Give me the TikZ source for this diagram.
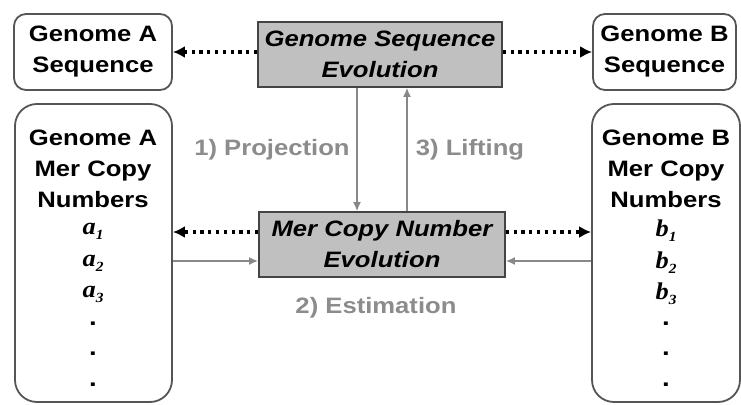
\documentclass[tikz,border=0pt]{standalone}
\usepackage{fontspec}
\setmainfont{Liberation Sans}[FakeStretch=1.15]
\newfontfamily\varfont{Liberation Serif}[FakeStretch=1.1]
\usetikzlibrary{arrows.meta}
\definecolor{boxline}{HTML}{555555}
\definecolor{procfill}{HTML}{C0C0C0}
\definecolor{procline}{HTML}{444444}
\definecolor{flowgray}{HTML}{888888}
\definecolor{labelgray}{HTML}{8C8C8C}
\newcommand{\mervar}[2]{{\varfont\bfseries\itshape\fontsize{24}{24}\selectfont #1\raisebox{-5pt}{\fontsize{14}{14}\selectfont #2}}}
\begin{document}
\begin{tikzpicture}[x=1pt,y=-1pt,
  txt/.style={font=\fontsize{22.3}{31}\selectfont\bfseries, align=center, inner sep=0pt},
  seqbox/.style={draw=boxline, line width=1.8pt, rounded corners=12pt, inner sep=0pt},
  merbox/.style={draw=boxline, line width=1.8pt, rounded corners=22pt, inner sep=0pt},
  procbox/.style={draw=procline, fill=procfill, line width=1.6pt, inner sep=0pt,
    font=\fontsize{22.3}{31}\selectfont\bfseries\itshape, align=center},
  steplabel/.style={font=\fontsize{22.3}{26}\selectfont\bfseries, text=labelgray, inner sep=0pt},
  dotarrow/.style={line width=3.4pt, dash pattern=on 3.2pt off 4.6pt,
    -{Latex[length=12pt,width=12pt]}},
  flowarrow/.style={draw=flowgray, line width=2.8pt, -{Latex[length=9pt,width=8pt]}},
  vardot/.style={font=\fontsize{24}{24}\selectfont\bfseries, inner sep=0pt}]
\useasboundingbox (0,0) rectangle (741,404);

% sequence boxes
\node[seqbox, minimum width=158pt, minimum height=76pt] (aseq) at (93,52) {};
\node[txt] (aseqtxt) at (aseq.center) {Genome A\\Sequence};
\node[seqbox, minimum width=143pt, minimum height=76pt] (bseq) at (664.5,52) {};
\node[txt] (bseqtxt) at (bseq.center) {Genome B\\Sequence};

% evolution processes
\node[procbox, minimum width=244pt, minimum height=65pt] (seqevo) at (380,54.5)
  {Genome Sequence\\Evolution};
\node[procbox, minimum width=246pt, minimum height=65pt] (merevo) at (382,244.5)
  {Mer Copy Number\\Evolution};

% mer copy number columns
\node[merbox, minimum width=157pt, minimum height=298pt] (amer) at (93.5,253) {};
\node[txt] (amertxt) at (93,169) {Genome A\\Mer Copy\\Numbers};
\node (a1) at (93,231) {\mervar{a}{1}};
\node (a2) at (93,263) {\mervar{a}{2}};
\node (a3) at (93,294) {\mervar{a}{3}};
\node[vardot] (ad1) at (93,324) {.};
\node[vardot] (ad2) at (93,354) {.};
\node[vardot] (ad3) at (93,385) {.};

\node[merbox, minimum width=148pt, minimum height=298pt] (bmer) at (666,253) {};
\node[txt] (bmertxt) at (666,169) {Genome B\\Mer Copy\\Numbers};
\node (b1) at (666,231) {\mervar{b}{1}};
\node (b2) at (666,263) {\mervar{b}{2}};
\node (b3) at (666,294) {\mervar{b}{3}};
\node[vardot] (bd1) at (666,324) {.};
\node[vardot] (bd2) at (666,354) {.};
\node[vardot] (bd3) at (666,385) {.};

% step labels
\node[steplabel] (proj) at (272,150) {1) Projection};
\node[steplabel] (lift) at (470,150) {3) Lifting};
\node[steplabel] (estim) at (376,308) {2) Estimation};

% correspondences (dotted)
\draw[dotarrow] (seqevo.west |- aseq.east) -- (aseq.east);
\draw[dotarrow] (seqevo.east |- bseq.west) -- (bseq.west);
\coordinate (midrow) at (0,232);
\draw[dotarrow] (merevo.west |- midrow) -- (amer.east |- midrow);
\draw[dotarrow] (merevo.east |- midrow) -- (bmer.west |- midrow);

% projection / lifting
\coordinate (projx) at (357,0);
\coordinate (liftx) at (407,0);
\draw[flowarrow] (projx |- seqevo.south) -- (projx |- merevo.north);
\draw[flowarrow] (liftx |- merevo.north) -- (liftx |- seqevo.south);

% estimation inputs
\coordinate (estrow) at (0,261);
\draw[flowarrow] (amer.east |- estrow) -- (merevo.west |- estrow);
\draw[flowarrow] (bmer.west |- estrow) -- (merevo.east |- estrow);
\end{tikzpicture}
\end{document}
